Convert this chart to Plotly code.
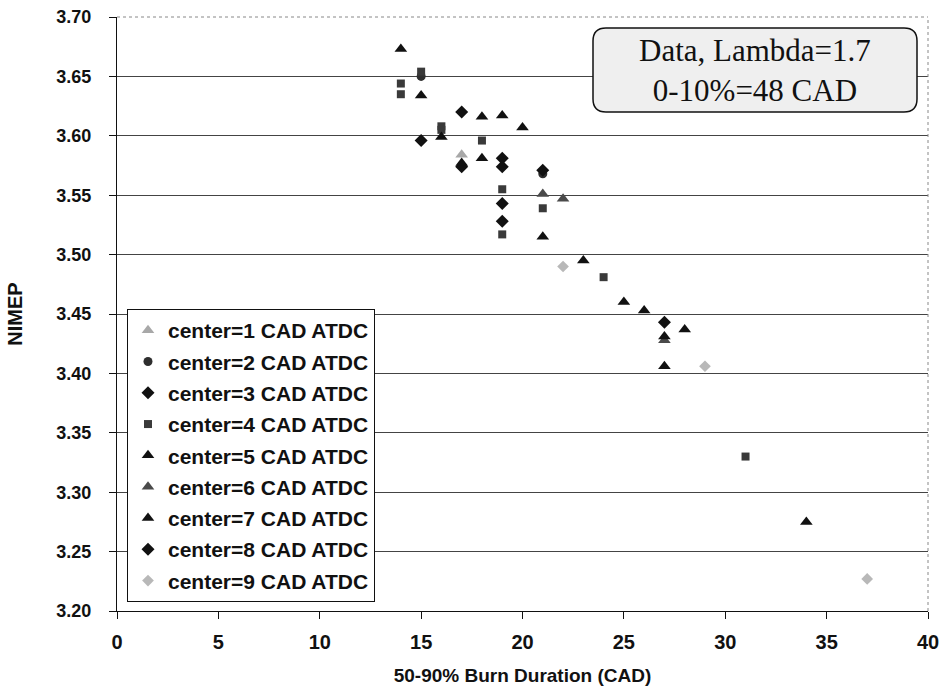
import plotly.graph_objects as go

# NIMEP vs 50-90% burn duration, grouped by combustion-centre timing
names = [
    "center=1 CAD ATDC", "center=2 CAD ATDC", "center=3 CAD ATDC",
    "center=4 CAD ATDC", "center=5 CAD ATDC", "center=6 CAD ATDC",
    "center=7 CAD ATDC", "center=8 CAD ATDC", "center=9 CAD ATDC",
]

c1_x = [17]
c1_y = [3.584]
c2_x = [15, 21]
c2_y = [3.650, 3.568]
c3_x = [15, 17, 19, 19]
c3_y = [3.596, 3.574, 3.581, 3.574]
c4_x = [14, 14, 15, 16, 16, 18, 19, 19, 21, 24, 31]
c4_y = [3.644, 3.635, 3.654, 3.608, 3.605, 3.596, 3.555, 3.517, 3.539, 3.481, 3.330]
c5_x = [14, 15, 16, 17, 18]
c5_y = [3.673, 3.634, 3.599, 3.577, 3.581]
c6_x = [21, 22, 27]
c6_y = [3.551, 3.547, 3.428]
c7_x = [18, 19, 20, 21, 23, 25, 26, 27, 27, 28, 34]
c7_y = [3.616, 3.617, 3.607, 3.515, 3.495, 3.460, 3.453, 3.431, 3.406, 3.437, 3.275]
c8_x = [17, 19, 19, 21, 27]
c8_y = [3.620, 3.543, 3.528, 3.571, 3.443]
c9_x = [22, 29, 37]
c9_y = [3.490, 3.406, 3.227]

series_x = [c1_x, c2_x, c3_x, c4_x, c5_x, c6_x, c7_x, c8_x, c9_x]
series_y = [c1_y, c2_y, c3_y, c4_y, c5_y, c6_y, c7_y, c8_y, c9_y]

styles = [
    dict(symbol="triangle-up", size=11, color="#a8a8a8"),
    dict(symbol="circle", size=9, color="#2e2e2e"),
    dict(symbol="diamond", size=10, color="#111111"),
    dict(symbol="square", size=8, color="#3a3a3a"),
    dict(symbol="triangle-up", size=11, color="#111111"),
    dict(symbol="triangle-up", size=11, color="#4a4a4a"),
    dict(symbol="triangle-up", size=11, color="#111111"),
    dict(symbol="diamond", size=10, color="#111111"),
    dict(symbol="diamond", size=9, color="#b8b8b8"),
]

fig = go.Figure()
for i, (nm, xs, ys, st) in enumerate(zip(names, series_x, series_y, styles)):
    fig.add_trace(go.Scatter(
        x=xs, y=ys, mode="markers", name=nm, legendgroup=f"g{i}",
        marker=dict(symbol=st["symbol"], size=st["size"], color=st["color"],
                    line=dict(width=0)),
    ))

L, R, T, B = 117, 12, 17, 84
W, H = 940, 695
pw, ph = W - L - R, H - T - B


def px_x(p):
    return (p - L) / pw


def px_y(p):
    return (H - B - p) / ph


# rounded label box
x0, x1 = px_x(593), px_x(917)
y0, y1 = px_y(112), px_y(28)
rx, ry = 13 / pw, 13 / ph
path = (
    f"M {x0 + rx},{y1} L {x1 - rx},{y1} Q {x1},{y1} {x1},{y1 - ry} "
    f"L {x1},{y0 + ry} Q {x1},{y0} {x1 - rx},{y0} "
    f"L {x0 + rx},{y0} Q {x0},{y0} {x0},{y0 + ry} "
    f"L {x0},{y1 - ry} Q {x0},{y1} {x0 + rx},{y1} Z"
)

shapes = [
    dict(type="line", xref="paper", yref="paper", x0=0, x1=1, y0=1, y1=1,
         line=dict(color="#888888", width=1, dash="dot")),
    dict(type="line", xref="paper", yref="paper", x0=1, x1=1, y0=0, y1=1,
         line=dict(color="#888888", width=1, dash="dot")),
    dict(type="path", xref="paper", yref="paper", path=path,
         fillcolor="#efefef", line=dict(color="#111111", width=1.5)),
]

sans = "Liberation Sans, Arial, sans-serif"

fig.update_layout(
    width=W, height=H,
    margin=dict(l=L, r=R, t=T, b=B, autoexpand=False),
    paper_bgcolor="white", plot_bgcolor="white",
    shapes=shapes,
    annotations=[
        dict(xref="paper", yref="paper", x=(x0 + x1) / 2, y=(y0 + y1) / 2,
             text="Data, Lambda=1.7<br>0-10%=48 CAD", showarrow=False,
             font=dict(family="Liberation Serif, Times New Roman, serif",
                       size=31, color="#111111"),
             xanchor="center", yanchor="middle"),
    ],
    legend=dict(
        x=px_x(127), y=px_y(309), xanchor="left", yanchor="top",
        bgcolor="white", bordercolor="#111111", borderwidth=1,
        font=dict(family=sans, size=21, color="#111111", weight="bold"),
        tracegroupgap=1,
    ),
    showlegend=True,
)

fig.update_xaxes(
    range=[0, 40], dtick=5, tick0=0, automargin=False,
    showline=True, linecolor="#111111", linewidth=1,
    ticks="outside", ticklen=7, tickcolor="#111111",
    showgrid=False, zeroline=False,
    ticklabelstandoff=6, ticklabeloverflow="allow",
    tickfont=dict(family=sans, size=20, color="#111111", weight="bold"),
    title=dict(text="50-90% Burn Duration (CAD)", standoff=16,
               font=dict(family=sans, size=19, color="#111111", weight="bold")),
)
fig.update_yaxes(
    range=[3.2, 3.7], dtick=0.05, tick0=3.2, tickformat=".2f", automargin=False,
    showline=True, linecolor="#111111", linewidth=1,
    ticks="outside", ticklen=7, tickcolor="#111111",
    showgrid=True, gridcolor="#444444", gridwidth=1, zeroline=False,
    ticklabelstandoff=14, ticklabeloverflow="allow",
    tickfont=dict(family=sans, size=18, color="#111111", weight="bold"),
    title=dict(text="NIMEP", standoff=28,
               font=dict(family=sans, size=20, color="#111111", weight="bold")),
)

fig.write_html("out.html")
